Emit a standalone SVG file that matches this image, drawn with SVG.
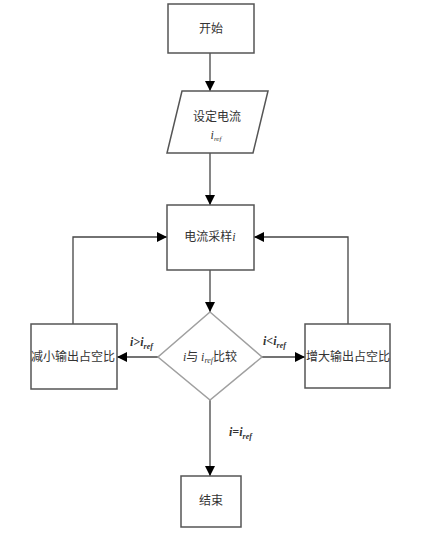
<svg xmlns="http://www.w3.org/2000/svg" width="437" height="541" viewBox="0 0 437 541">
<defs>
<marker id="ah" viewBox="0 0 10 10" refX="10" refY="5" markerWidth="10" markerHeight="10" markerUnits="userSpaceOnUse" orient="auto">
<path d="M0,0 L10,5 L0,10 z" fill="#000"/>
</marker>
<style>
.box{fill:#fff;stroke:#555;stroke-width:1.5}
.dia{fill:#fff;stroke:#a0a0a0;stroke-width:1.5}
.ln{fill:none;stroke:#444;stroke-width:1.3}
.t{font-family:"Noto Sans CJK SC","Noto Sans",sans-serif;font-size:12px;fill:#333;text-anchor:middle}
.it{font-family:"Liberation Serif",serif;font-style:italic}
.lb{font-family:"Liberation Serif",serif;font-style:italic;font-weight:bold;font-size:12px;fill:#333}
</style>
</defs>
<g id="connectors">
<line class="ln" x1="210" y1="53" x2="210" y2="91" marker-end="url(#ah)"/>
<line class="ln" x1="210" y1="153" x2="210" y2="205" marker-end="url(#ah)"/>
<line class="ln" x1="210" y1="270" x2="210" y2="312" marker-end="url(#ah)"/>
<line class="ln" x1="158" y1="357" x2="117" y2="357" marker-end="url(#ah)"/>
<line class="ln" x1="262" y1="357" x2="305" y2="357" marker-end="url(#ah)"/>
<line class="ln" x1="210" y1="400" x2="210" y2="476" marker-end="url(#ah)"/>
<polyline class="ln" points="73,324 73,237 167,237" marker-end="url(#ah)"/>
<polyline class="ln" points="348,324 348,237 254,237" marker-end="url(#ah)"/>
<text class="lb" x="130" y="346">i&gt;i<tspan font-size="8" dy="3">ref</tspan></text>
<text class="lb" x="263" y="345">i&lt;i<tspan font-size="8" dy="3">ref</tspan></text>
<text class="lb" x="229" y="436">i=i<tspan font-size="8" dy="3">ref</tspan></text>
</g>
<g id="start">
<rect class="box" x="168" y="4" width="86" height="49"/>
<text class="t" x="211" y="33">开始</text>
</g>
<g id="input">
<polygon class="box" points="182,91 268,91 253,153 167,153"/>
<text class="t" x="217" y="121">设定电流</text>
<text class="t it" x="216" y="139" font-size="10">i<tspan font-size="7" dy="2">ref</tspan></text>
</g>
<g id="sample">
<rect class="box" x="167" y="205" width="87" height="65"/>
<text class="t" x="210" y="241">电流采样<tspan class="it">i</tspan></text>
</g>
<g id="compare">
<polygon class="dia" points="210,312 262,357 210,400 158,357"/>
<text class="t" x="210" y="361"><tspan class="it">i</tspan>与 <tspan class="it">i<tspan font-size="8" dy="2">ref</tspan></tspan><tspan dy="-2">比较</tspan></text>
</g>
<g id="decrease">
<rect class="box" x="31" y="324" width="86" height="65"/>
<text class="t" x="73" y="361">减小输出占空比</text>
</g>
<g id="increase">
<rect class="box" x="305" y="324" width="85" height="64"/>
<text class="t" x="348" y="361">增大输出占空比</text>
</g>
<g id="end">
<rect class="box" x="181" y="476" width="60" height="51"/>
<text class="t" x="211" y="505">结束</text>
</g>
</svg>
